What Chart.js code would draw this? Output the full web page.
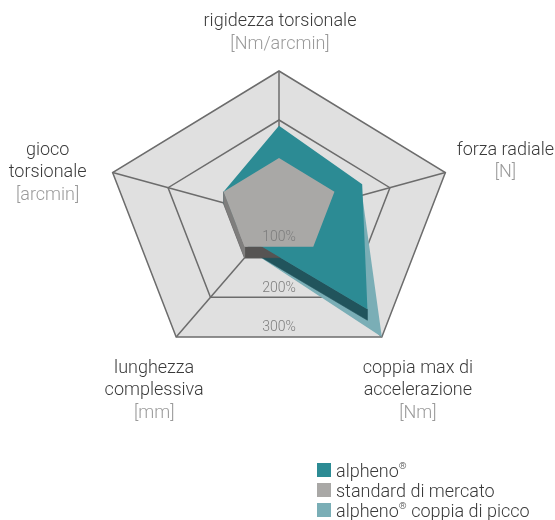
<!DOCTYPE html>
<html lang="it">
<head>
<meta charset="utf-8">
<title>alpheno – confronto prestazioni</title>
<script src="https://cdn.jsdelivr.net/npm/chart.js@4/dist/chart.umd.min.js"></script>
<style>
  html, body { margin: 0; padding: 0; background: #fff; }
  #wrap { position: relative; width: 555px; height: 520px; }
  #radar { display: block; }
  #legend {
    position: absolute; left: 317px; top: 460px; margin: 0; padding: 0; list-style: none;
    font: 300 18px Roboto, "Liberation Sans", sans-serif; color: #3a3a3a;
  }
  #legend li { display: flex; align-items: center; height: 20px; white-space: nowrap; }
  #legend .swatch { width: 14px; height: 14px; margin-right: 5px; flex: none; }
  #legend sup { font-size: 0.55em; line-height: 0; position: relative; top: -0.1em; vertical-align: super; }
</style>
</head>
<body>
<div id="wrap">
  <canvas id="radar" width="555" height="520"></canvas>
  <ul id="legend"></ul>
</div>
<script>
// axis names (one entry per printed line) and their units
const axisNames = [
  ['rigidezza torsionale'],
  ['forza radiale'],
  ['coppia max di', 'accelerazione'],
  ['lunghezza', 'complessiva'],
  ['gioco', 'torsionale']
];
const axisUnits = ['[Nm/arcmin]', '[N]', '[Nm]', '[mm]', '[arcmin]'];

// values in % of the market standard
const alphenoValues  = [166, 150, 258, 83, 100];
const standardValues = [100, 100, 100, 100, 100];
const peakValues     = [166, 150, 300, 83, 100];

const seriesNames = ['alpheno®', 'standard di mercato', 'alpheno® coppia di picco'];

const tickValues = [100, 200, 300];
const tickLabels = ['100%', '200%', '300%'];

// ---- look & layout -------------------------------------------------------
const FONT_FAMILY = 'Roboto, "Liberation Sans", sans-serif';
const NAME_COLOR = '#3a3a3a';
const UNIT_COLOR = '#9a9a9a';
const TICK_COLOR = '#7d7d7d';
const LINE_H = 22.5;
const EXTRUDE = 11;          // height of the raised plates
const TICK_GAP = 9;          // tick text sits just above the lower ring edge
// label block centre relative to the outer vertex of each axis
const LABEL_OFFSETS = [[1, -38], [60, -11], [36, 54], [-22, 54], [-65, 0]];

// radial scale drawn slightly wider than tall (tilted floor)
const BaseRadial = Chart.RadialLinearScale || Chart.registry.getScale('radialLinear');
class OvalRadialScale extends BaseRadial {
  getPointPosition(index, distanceFromCenter, additionalAngle = 0) {
    const p = super.getPointPosition(index, distanceFromCenter, additionalAngle);
    const k = this.options.xStretch || 1;
    return { x: this.xCenter + (p.x - this.xCenter) * k, y: p.y, angle: p.angle };
  }
}
OvalRadialScale.id = 'ovalRadial';
Chart.register(OvalRadialScale);

function hexToRgb(h) {
  const n = parseInt(h.slice(1), 16);
  return [(n >> 16) & 255, (n >> 8) & 255, n & 255];
}
function mix(c1, c2, t) {
  const a = hexToRgb(c1), b = hexToRgb(c2);
  return 'rgb(' + a.map((v, i) => Math.round(v + (b[i] - v) * t)).join(',') + ')';
}

function isRaised(chart, meta) {
  return !!chart.data.datasets[meta.index].raised;
}

// side walls of the raised plates, back to front
function drawAllWalls(chart) {
  const ctx = chart.ctx;
  const drawOrder = chart.getSortedVisibleDatasetMetas().slice().reverse();
  ctx.save();
  drawOrder.forEach(meta => {
    const ds = chart.data.datasets[meta.index];
    if (!ds.raised) return;
    const pts = meta.data;
    const walls = [];
    for (let i = 0; i < pts.length; i++) {
      const a = pts[i], b = pts[(i + 1) % pts.length];
      const dx = b.x - a.x, dy = b.y - a.y;
      if (dx >= 0) continue; // facing away
      walls.push({ a, b, depth: Math.max(a.y, b.y), steep: Math.abs(dy) / Math.hypot(dx, dy) });
    }
    walls.sort((u, v) => u.depth - v.depth);
    walls.forEach(w => {
      const col = mix(ds.wallColor, ds.wallColorSteep, w.steep);
      ctx.beginPath();
      ctx.moveTo(w.a.x, w.a.y);
      ctx.lineTo(w.b.x, w.b.y);
      ctx.lineTo(w.b.x, w.b.y + EXTRUDE);
      ctx.lineTo(w.a.x, w.a.y + EXTRUDE);
      ctx.closePath();
      ctx.fillStyle = col;
      ctx.fill();
      ctx.strokeStyle = col;
      ctx.lineWidth = 0.6;
      ctx.stroke();
    });
  });
  ctx.restore();
  chart.$wallsDone = true;
}

const plinthPlugin = {
  id: 'plinth',
  afterDatasetUpdate(chart, args) {
    if (!chart.data.datasets[args.index].raised) return;
    args.meta.data.forEach(p => { p.y -= EXTRUDE; });
  },
  beforeDatasetsDraw(chart) {
    chart.$wallsDone = false;
    const order = chart.getSortedVisibleDatasetMetas().slice().reverse();
    if (order.length && isRaised(chart, order[0])) drawAllWalls(chart);
  },
  afterDatasetDraw(chart, args) {
    if (chart.$wallsDone) return;
    const order = chart.getSortedVisibleDatasetMetas().slice().reverse();
    const next = order[order.indexOf(args.meta) + 1];
    if (next && isRaised(chart, next)) drawAllWalls(chart);
  }
};

const axisTextPlugin = {
  id: 'axisText',
  afterDatasetsDraw(chart) {
    const ctx = chart.ctx;
    const scale = chart.scales.r;
    ctx.save();
    ctx.textAlign = 'center';
    ctx.textBaseline = 'middle';

    // ring values along the lower edge
    ctx.font = '300 14px ' + FONT_FAMILY;
    ctx.fillStyle = TICK_COLOR;
    tickValues.forEach((v, k) => {
      const p = scale.getPointPositionForValue(2, v);
      const q = scale.getPointPositionForValue(3, v);
      const onPlate = v <= Math.min(standardValues[2], standardValues[3]);
      const y = (p.y + q.y) / 2 - TICK_GAP - (onPlate ? EXTRUDE : 0);
      ctx.fillText(tickLabels[k], (p.x + q.x) / 2, y);
    });

    // axis titles with their units
    ctx.font = '300 18px ' + FONT_FAMILY;
    axisNames.forEach((lines, i) => {
      const v = scale.getPointPosition(i, scale.drawingArea);
      const [ox, oy] = LABEL_OFFSETS[i];
      const rows = lines.map(t => ({ t, c: NAME_COLOR })).concat([{ t: axisUnits[i], c: UNIT_COLOR }]);
      const y0 = v.y + oy - (rows.length - 1) * LINE_H / 2;
      rows.forEach((r, k) => {
        ctx.fillStyle = r.c;
        ctx.fillText(r.t, v.x + ox, y0 + k * LINE_H);
      });
    });
    ctx.restore();
  }
};

const chart = new Chart(document.getElementById('radar'), {
  type: 'radar',
  data: {
    labels: axisNames.map(l => l.join(' ')),
    datasets: [
      {
        label: seriesNames[0], data: alphenoValues, order: 1, raised: true,
        backgroundColor: '#2c8b94', wallColor: '#1d474e', wallColorSteep: '#24606a'
      },
      {
        label: seriesNames[1], data: standardValues, order: 0, raised: true,
        backgroundColor: '#a9a8a6', wallColor: '#565453', wallColorSteep: '#828180'
      },
      {
        label: seriesNames[2], data: peakValues, order: 2,
        backgroundColor: '#7aaeb6'
      }
    ].map(ds => Object.assign({
      fill: true, borderWidth: 0, borderColor: 'rgba(0,0,0,0)',
      pointRadius: 0, pointHoverRadius: 0, clip: false
    }, ds))
  },
  options: {
    responsive: false,
    animation: false,
    layout: { padding: { left: 132, right: 129, top: 71, bottom: 155 } },
    plugins: { legend: { display: false }, tooltip: { enabled: false } },
    scales: {
      r: {
        type: 'ovalRadial',
        xStretch: 1.19,
        min: 0, max: 300,
        backgroundColor: '#e0e0e0',
        ticks: { stepSize: 100, display: false },
        grid: { color: '#6c6c6c', lineWidth: 1.5 },
        angleLines: { color: '#6c6c6c', lineWidth: 1.5 },
        pointLabels: { display: false }
      }
    }
  },
  plugins: [plinthPlugin, axisTextPlugin]
});

// legend list built from the datasets
const legendEl = document.getElementById('legend');
chart.data.datasets.forEach(ds => {
  const li = document.createElement('li');
  const sw = document.createElement('span');
  sw.className = 'swatch';
  sw.style.background = ds.backgroundColor;
  li.appendChild(sw);
  const txt = document.createElement('span');
  ds.label.split('®').forEach((part, i) => {
    if (i > 0) {
      const sup = document.createElement('sup');
      sup.textContent = '®';
      txt.appendChild(sup);
    }
    txt.appendChild(document.createTextNode(part));
  });
  li.appendChild(txt);
  legendEl.appendChild(li);
});
</script>
</body>
</html>
